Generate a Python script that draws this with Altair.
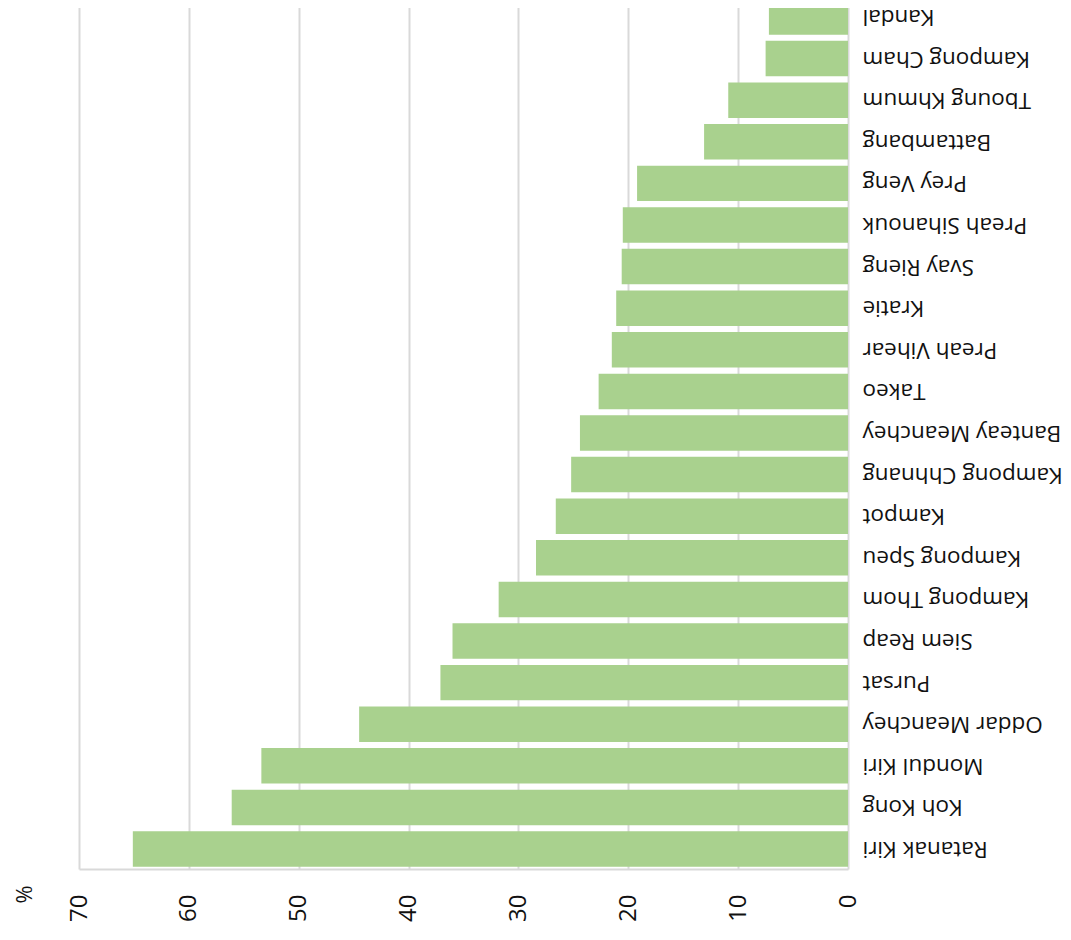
import altair as alt
import pandas as pd

regions = ["Kandal", "Kampong Cham", "Tboung Khmum", "Battambang", "Prey Veng",
           "Preah Sihanouk", "Svay Rieng", "Kratie", "Preah Vihear", "Takeo",
           "Banteay Meanchey", "Kampong Chhnang", "Kampot", "Kampong Speu",
           "Kampong Thom", "Siem Reap", "Pursat", "Oddar Meanchey", "Mondul Kiri",
           "Koh Kong", "Ratanak Kiri"]
values = [7.2, 7.5, 10.9, 13.1, 19.2,
          20.5, 20.6, 21.1, 21.5, 22.7,
          24.4, 25.2, 26.6, 28.4,
          31.8, 36.0, 37.1, 44.5, 53.4,
          56.1, 65.1]
ticks = [0, 10, 20, 30, 40, 50, 60, 70]

df = pd.DataFrame({"region": regions, "value": values})

FONT = "Open Sans"
GRID = "#d9d9d9"

chart = alt.Chart(df).mark_bar(color="#A9D18E").encode(
    x=alt.X(
        "value:Q",
        scale=alt.Scale(domain=[0, 70], reverse=True, nice=False),
        axis=alt.Axis(
            values=ticks,
            labelAngle=270,
            labelAlign="right",
            labelBaseline="middle",
            labelPadding=25,
            ticks=False,
            domain=True,
            domainColor=GRID,
            domainWidth=2,
            grid=True,
            gridColor=GRID,
            gridWidth=2,
            labelFont=FONT,
            labelFontSize=24,
            labelColor="#111111",
            title="%",
            titleAngle=270,
            titleX=-55,
            titleY=25,
            titleAlign="center",
            titleBaseline="middle",
            titleFont=FONT,
            titleFontSize=22,
            titleFontWeight="normal",
            titleColor="#111111",
        ),
    ),
    y=alt.Y(
        "region:N",
        sort=regions,
        scale=alt.Scale(paddingInner=0.147, paddingOuter=0.053),
        axis=alt.Axis(
            orient="right",
            labelAngle=180,
            labelAlign="right",
            labelBaseline="middle",
            labelPadding=14,
            labelLimit=400,
            ticks=False,
            domain=False,
            labelFont=FONT,
            labelFontSize=22.5,
            labelColor="#111111",
            title="",
        ),
    ),
).properties(
    width=769,
    height=872,
    autosize=alt.AutoSizeParams(type="none"),
    padding={"left": 71, "top": -11, "right": 214, "bottom": 56},
).configure_view(stroke=None)

chart.save("out.html", embed_options={"renderer": "svg", "actions": False})
